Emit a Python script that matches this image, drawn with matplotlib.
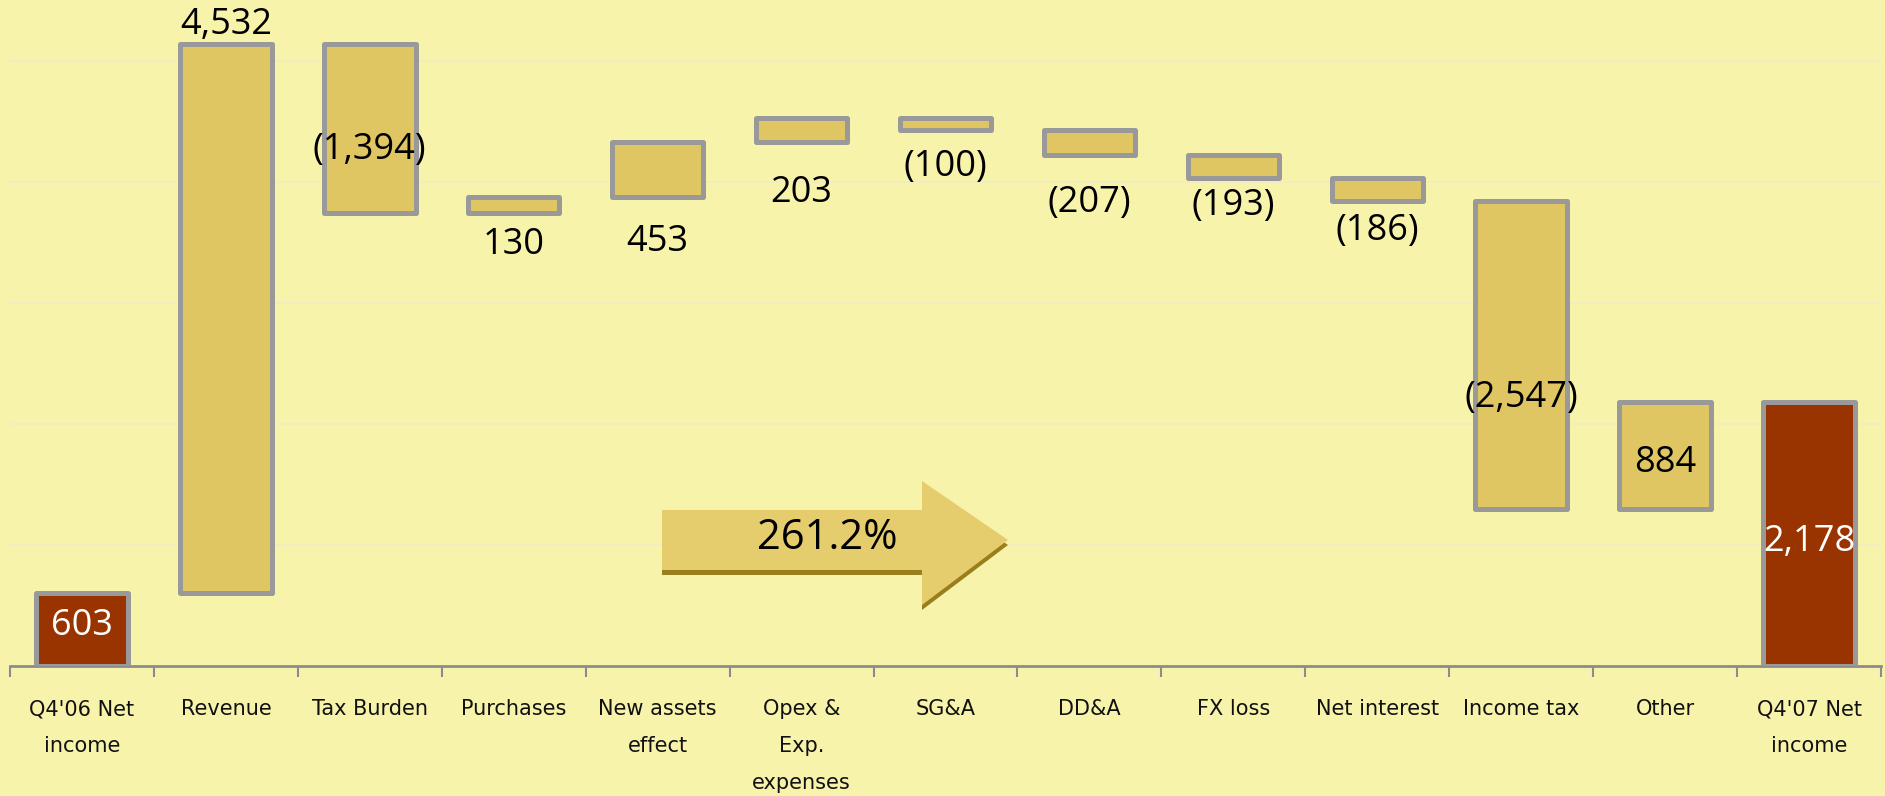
import numpy as np
import matplotlib
matplotlib.use("Agg")
import matplotlib.pyplot as plt
from matplotlib.patches import Polygon

# data
categories = ["Q4'06 Net\nincome", "Revenue", "Tax Burden", "Purchases",
              "New assets\neffect", "Opex &\nExp.\nexpenses", "SG&A", "DD&A",
              "FX loss", "Net interest", "Income tax", "Other", "Q4'07 Net\nincome"]
deltas = [603, 4532, -1394, 130, 453, 203, -100, -207, -193, -186, -2547, 884, 2178]
is_total = [True] + [False] * 11 + [True]
growth = "261.2%"

# label placement: ('in', frac of bar) / ('above', px) / ('below', px)
label_mode = ['in', 'above', 'in', 'below', 'below', 'below', 'below', 'below',
              'below', 'below', 'in', 'in', 'in']
label_arg = [0.55, 19, 0.375, 32, 45, 51, 37, 48, 28, 30, 0.36, 0.43, 0.47]

bg = '#F8F3AB'
gold = '#DFC663'
red = '#993300'
edge = '#999999'

# waterfall geometry
bottoms, heights = [], []
run = 0
for d, tot in zip(deltas, is_total):
    if tot:
        bottoms.append(0)
        heights.append(d)
        run = d
    else:
        bottoms.append(min(run, run + d))
        heights.append(abs(d))
        run += d
bottoms = np.array(bottoms)
heights = np.array(heights)
x = np.arange(len(categories))

fig = plt.figure(figsize=(18.85, 7.96), dpi=100, facecolor=bg)
ax = fig.add_axes([10 / 1885, 130 / 796, 1871 / 1885, 666 / 796])
ax.set_facecolor(bg)

colors = [red if t else gold for t in is_total]
ax.bar(x, heights, bottom=bottoms, width=0.635, color=colors,
       edgecolor=edge, linewidth=3.6, zorder=3, joinstyle='round')

ax.set_xlim(-0.5, len(categories) - 0.5)
ax.set_ylim(0, 5500)
ax.set_yticks([1000, 2000, 3000, 4000, 5000])
ax.yaxis.grid(True, color='#F0ECC2', linewidth=1.2, zorder=0)
ax.tick_params(axis='y', left=False, labelleft=False)
for s in ['left', 'right', 'top']:
    ax.spines[s].set_visible(False)
ax.spines['bottom'].set_color('#8c8c8c')
ax.spines['bottom'].set_linewidth(2)

ax.set_xticks(x)
ax.set_xticklabels(categories, fontsize=15, family='DejaVu Sans',
                   linespacing=2.05, color='#111111')
ax.tick_params(axis='x', which='major', length=0, pad=24)
ax.set_xticks(np.arange(len(categories) + 1) - 0.5, minor=True)
ax.tick_params(axis='x', which='minor', length=8, width=1.5, color='#8c8c8c')

# value labels
for i, d in enumerate(deltas):
    txt = f"{d:,}" if d >= 0 else f"({-d:,})"
    col = 'white' if is_total[i] else 'black'
    kw = dict(ha='center', va='center', fontsize=26, family='Open Sans',
              color=col, zorder=5)
    mode, arg = label_mode[i], label_arg[i]
    if mode == 'in':
        ax.text(x[i], bottoms[i] + arg * heights[i], txt, **kw)
    elif mode == 'above':
        ax.annotate(txt, (x[i], bottoms[i] + heights[i]), xytext=(0, arg),
                    textcoords='offset pixels', **kw)
    else:
        ax.annotate(txt, (x[i], bottoms[i]), xytext=(0, -arg),
                    textcoords='offset pixels', **kw)

# growth arrow (axes fraction from pixel layout)
def fx(px):
    return (px - 10) / 1871

def fy(py):
    return (666 - py) / 666

pts = [(662, 510), (922, 510), (922, 481), (1008, 540), (922, 605),
       (922, 570), (662, 570)]
shadow = Polygon([(fx(a), fy(b + 5)) for a, b in pts], closed=True,
                 transform=ax.transAxes, facecolor='#9A7D1C', edgecolor='none',
                 zorder=4)
face = Polygon([(fx(a), fy(b)) for a, b in pts], closed=True,
               transform=ax.transAxes, facecolor='#E5CD6D', edgecolor='none',
               zorder=4)
ax.add_patch(shadow)
ax.add_patch(face)
ax.text(fx(827), fy(538), growth, transform=ax.transAxes, ha='center',
        va='center', fontsize=30, family='Open Sans', color='black', zorder=6)

fig.savefig('out.png', dpi=100, facecolor=bg)
